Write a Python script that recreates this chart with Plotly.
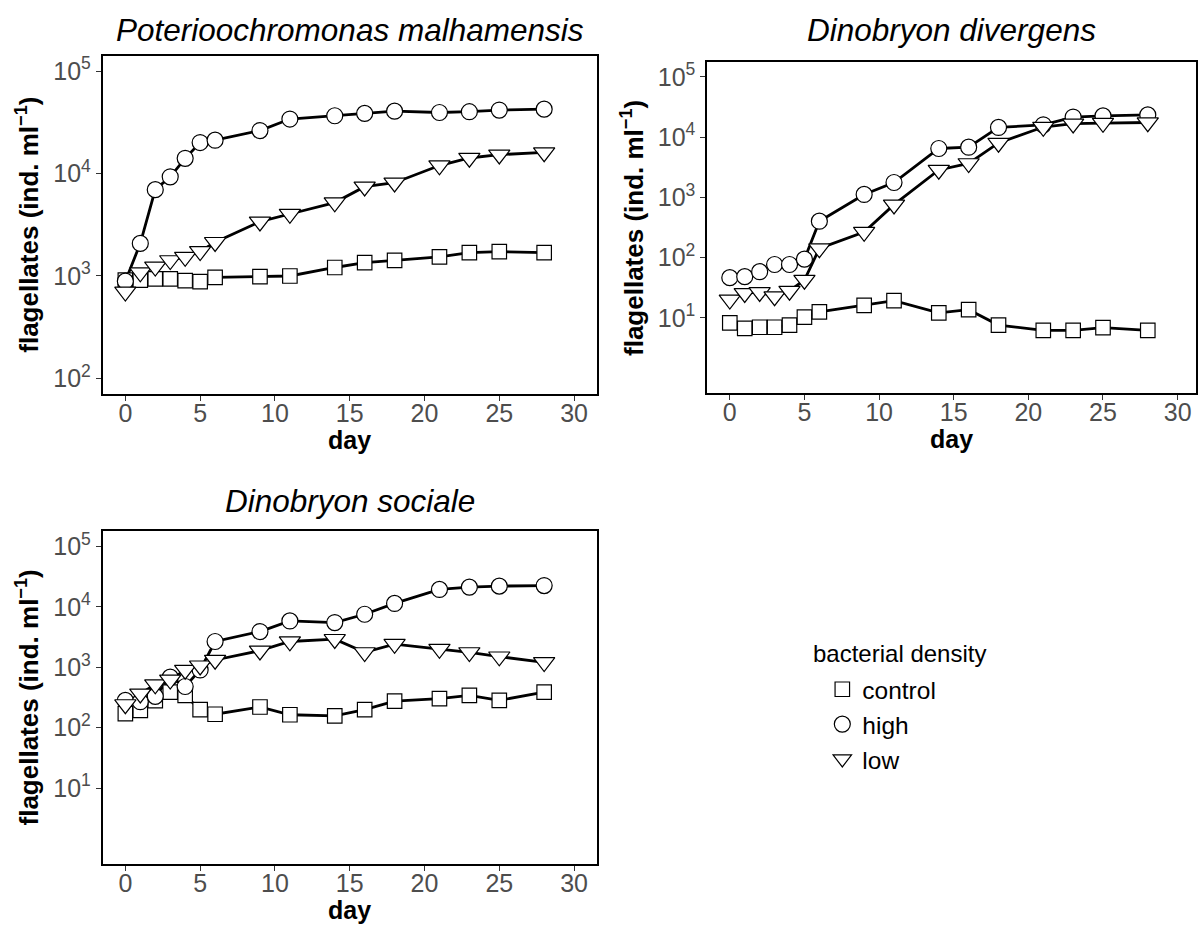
import plotly.graph_objects as go

# Sampling days (same for every culture and treatment)
days = [0, 1, 2, 3, 4, 5, 6, 9, 11, 14, 16, 18, 21, 23, 25, 28]

# Poterioochromonas malhamensis (ind. per ml)
pm_control = [910, 910, 935, 935, 900, 880, 970, 985, 1000, 1210, 1350, 1420, 1540, 1690, 1730, 1690]
pm_high = [890, 2080, 6970, 9300, 14100, 20100, 21200, 26300, 34100, 36700, 38700, 40700, 39500, 40200, 41700, 42600]
pm_low = [700, 1080, 1230, 1420, 1530, 1740, 2140, 3390, 4030, 5210, 7450, 8140, 11980, 14200, 15300, 16100]

# Dinobryon divergens
dd_control = [8.3, 6.7, 7.0, 7.0, 7.6, 10.3, 12.6, 16.1, 19.3, 12.1, 13.7, 7.6, 6.2, 6.2, 6.9, 6.2]
dd_high = [46.6, 48.4, 58.5, 77, 77, 94.5, 403, 1120, 1765, 6480, 6810, 14500, 16000, 21500, 22500, 23400]
dd_low = [20, 25.7, 26.7, 22.7, 28, 42.6, 142, 266, 757, 2850, 3670, 8020, 14700, 16700, 17100, 17500]

# Dinobryon sociale
ds_control = [171, 194, 280, 388, 342, 199, 167, 220, 164, 157, 199, 276, 302, 342, 283, 388]
ds_high = [283, 270, 330, 686, 481, 903, 2670, 3900, 5850, 5490, 7540, 11400, 19400, 21200, 22000, 22500]
ds_low = [243, 365, 519, 620, 903, 1064, 1320, 1880, 2670, 2920, 1765, 2420, 2000, 1765, 1500, 1210]

treatments = ["control", "high", "low"]
symbols = {"control": "square", "high": "circle", "low": "triangle-down"}
msize = {"control": 14.5, "high": 16, "low": 18.5}

x_ticks = [0, 5, 10, 15, 20, 25, 30]

W, H = 1198, 927
FONT = "Liberation Sans, Arial, Helvetica, sans-serif"
TICK_GREY = "#4D4D4D"


def px_x(p):
    return p / W


def px_y(p):
    return 1 - p / H


panels = [
    dict(name="Poterioochromonas malhamensis",
         series={"control": pm_control, "high": pm_high, "low": pm_low},
         xd=[px_x(103), px_x(597)], yd=[px_y(392), px_y(53)],
         xr=[-1.5, 31.5], yr=[1.85, 5.15], yt=[2, 3, 4, 5], title_y=27),
    dict(name="Dinobryon divergens",
         series={"control": dd_control, "high": dd_high, "low": dd_low},
         xd=[px_x(708), px_x(1197)], yd=[px_y(391.5), px_y(59)],
         xr=[-1.5, 31.23], yr=[-0.25, 5.25], yt=[1, 2, 3, 4, 5], title_y=27),
    dict(name="Dinobryon sociale",
         series={"control": ds_control, "high": ds_high, "low": ds_low},
         xd=[px_x(103), px_x(597)], yd=[px_y(863.5), px_y(530)],
         xr=[-1.5, 31.5], yr=[-0.25, 5.25], yt=[1, 2, 3, 4, 5], title_y=500),
]

fig = go.Figure()

# lines of every panel first, so that all points sit on top
for i, p in enumerate(panels):
    sfx = "" if i == 0 else str(i + 1)
    for t in treatments:
        fig.add_trace(go.Scatter(
            x=days, y=p["series"][t], mode="lines",
            line=dict(color="black", width=2.8),
            xaxis="x" + sfx, yaxis="y" + sfx,
            showlegend=False, hoverinfo="skip"))

for i, p in enumerate(panels):
    sfx = "" if i == 0 else str(i + 1)
    for t in treatments:
        fig.add_trace(go.Scatter(
            x=days, y=p["series"][t], mode="markers", name=t,
            legendgroup=t, showlegend=(i == 0),
            marker=dict(symbol=symbols[t], size=msize[t], color="white",
                        line=dict(color="black", width=1.2)),
            xaxis="x" + sfx, yaxis="y" + sfx))

annotations = []
for i, p in enumerate(panels):
    sfx = "" if i == 0 else str(i + 1)
    axis_common = dict(showline=True, mirror=True, linecolor="black", linewidth=2.2,
                       ticks="outside", ticklen=5, tickwidth=1.1, tickcolor="#333333",
                       showgrid=False, zeroline=False,
                       tickfont=dict(family=FONT, size=25, color=TICK_GREY))
    fig.update_layout(**{
        "xaxis" + sfx: dict(domain=p["xd"], range=p["xr"], tickvals=x_ticks,
                            anchor="y" + sfx, ticklabelstandoff=-9, **axis_common),
        "yaxis" + sfx: dict(domain=p["yd"], range=p["yr"], type="log",
                            tickvals=[10 ** k for k in p["yt"]],
                            ticktext=["10<sup>%d</sup>" % k for k in p["yt"]],
                            anchor="x" + sfx, **axis_common),
    })
    xc = (p["xd"][0] + p["xd"][1]) / 2
    yc = (p["yd"][0] + p["yd"][1]) / 2
    bottom = p["yd"][0]
    # panel title
    annotations.append(dict(text="<i>%s</i>" % p["name"], x=xc, y=px_y(p["title_y"]),
                            xref="paper", yref="paper", xanchor="center", yanchor="middle",
                            showarrow=False, font=dict(family=FONT, size=31.5, color="black")))
    # x axis title
    annotations.append(dict(text="<b>day</b>", x=xc, y=bottom - 46 / H,
                            xref="paper", yref="paper", xanchor="center", yanchor="middle",
                            showarrow=False, font=dict(family=FONT, size=25, color="black")))
    # y axis title
    annotations.append(dict(text="<b>flagellates (ind. ml<sup>\u22121</sup>)</b>",
                            x=p["xd"][0] - 75 / W, y=yc, textangle=-90,
                            xref="paper", yref="paper", xanchor="center", yanchor="middle",
                            showarrow=False, font=dict(family=FONT, size=26, color="black")))

# legend heading
annotations.append(dict(text="bacterial density", x=px_x(812), y=px_y(653),
                        xref="paper", yref="paper", xanchor="left", yanchor="middle",
                        showarrow=False, font=dict(family=FONT, size=24, color="black")))

fig.update_layout(
    width=W, height=H,
    margin=dict(l=0, r=0, t=0, b=0),
    paper_bgcolor="white", plot_bgcolor="white",
    font=dict(family=FONT, color="black"),
    annotations=annotations,
    legend=dict(x=px_x(823), y=px_y(666), xanchor="left", yanchor="top",
                font=dict(family=FONT, size=24.5, color="black"),
                bgcolor="rgba(0,0,0,0)", tracegroupgap=0),
)

fig.write_html("out.html")
